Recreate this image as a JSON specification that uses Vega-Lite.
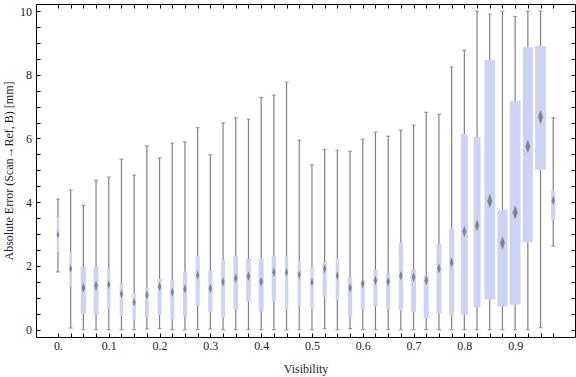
{
  "$schema": "https://vega.github.io/schema/vega-lite/v6.json",
  "width": 539,
  "height": 333,
  "autosize": {"type": "none"},
  "padding": {"left": 36, "top": 4, "right": 1, "bottom": 40},
  "config": {
    "view": {"stroke": null},
    "axis": {
      "grid": false,
      "domainColor": "#000000",
      "tickColor": "#000000",
      "domainWidth": 1,
      "tickWidth": 1,
      "tickSize": -4,
      "labelFont": "Liberation Serif",
      "titleFont": "Liberation Serif",
      "labelFontSize": 12,
      "titleFontSize": 12,
      "labelColor": "#222222",
      "titleColor": "#222222",
      "titleFontWeight": "normal"
    }
  },
  "data": {
    "values": [
      {"vis": 0.000, "lo": 1.81, "q1": 2.44, "med": 2.98, "q3": 3.53, "hi": 4.10, "weight": 25},
      {"vis": 0.025, "lo": 0.05, "q1": 1.33, "med": 1.91, "q3": 2.45, "hi": 4.38, "weight": 27},
      {"vis": 0.050, "lo": 0, "q1": 0.51, "med": 1.31, "q3": 1.97, "hi": 3.90, "weight": 53},
      {"vis": 0.075, "lo": 0, "q1": 0.48, "med": 1.38, "q3": 1.97, "hi": 4.69, "weight": 50},
      {"vis": 0.100, "lo": 0, "q1": 0.64, "med": 1.41, "q3": 1.93, "hi": 4.79, "weight": 33},
      {"vis": 0.125, "lo": 0, "q1": 0.43, "med": 1.12, "q3": 1.47, "hi": 5.35, "weight": 35},
      {"vis": 0.150, "lo": 0, "q1": 0.29, "med": 0.86, "q3": 1.15, "hi": 4.85, "weight": 33},
      {"vis": 0.175, "lo": 0.02, "q1": 0.39, "med": 1.09, "q3": 1.32, "hi": 5.77, "weight": 37},
      {"vis": 0.200, "lo": 0.03, "q1": 0.46, "med": 1.35, "q3": 1.60, "hi": 5.39, "weight": 40},
      {"vis": 0.225, "lo": 0, "q1": 0.32, "med": 1.18, "q3": 1.57, "hi": 5.86, "weight": 40},
      {"vis": 0.250, "lo": 0, "q1": 0.41, "med": 1.28, "q3": 1.82, "hi": 5.89, "weight": 40},
      {"vis": 0.275, "lo": 0, "q1": 0.75, "med": 1.71, "q3": 2.32, "hi": 6.34, "weight": 40},
      {"vis": 0.300, "lo": 0.02, "q1": 0.54, "med": 1.29, "q3": 1.85, "hi": 5.49, "weight": 42},
      {"vis": 0.325, "lo": 0, "q1": 0.39, "med": 1.50, "q3": 2.19, "hi": 6.49, "weight": 40},
      {"vis": 0.350, "lo": 0, "q1": 0.64, "med": 1.61, "q3": 2.32, "hi": 6.65, "weight": 47},
      {"vis": 0.375, "lo": 0, "q1": 0.89, "med": 1.68, "q3": 2.22, "hi": 6.61, "weight": 47},
      {"vis": 0.400, "lo": 0, "q1": 0.57, "med": 1.51, "q3": 2.22, "hi": 7.29, "weight": 50},
      {"vis": 0.425, "lo": 0, "q1": 0.90, "med": 1.80, "q3": 2.32, "hi": 7.36, "weight": 43},
      {"vis": 0.450, "lo": 0, "q1": 0.60, "med": 1.80, "q3": 2.30, "hi": 7.77, "weight": 33},
      {"vis": 0.475, "lo": 0, "q1": 0.74, "med": 1.72, "q3": 2.16, "hi": 5.95, "weight": 33},
      {"vis": 0.500, "lo": 0, "q1": 0.65, "med": 1.49, "q3": 1.97, "hi": 5.17, "weight": 33},
      {"vis": 0.525, "lo": 0.03, "q1": 1.04, "med": 1.91, "q3": 2.11, "hi": 5.66, "weight": 40},
      {"vis": 0.550, "lo": 0, "q1": 0.92, "med": 1.69, "q3": 2.25, "hi": 5.63, "weight": 33},
      {"vis": 0.575, "lo": 0.03, "q1": 0.39, "med": 1.31, "q3": 1.63, "hi": 5.60, "weight": 43},
      {"vis": 0.600, "lo": 0, "q1": 0.64, "med": 1.44, "q3": 1.55, "hi": 5.98, "weight": 40},
      {"vis": 0.625, "lo": 0, "q1": 0.73, "med": 1.54, "q3": 1.88, "hi": 6.20, "weight": 40},
      {"vis": 0.650, "lo": 0, "q1": 0.64, "med": 1.51, "q3": 1.76, "hi": 6.07, "weight": 42},
      {"vis": 0.675, "lo": 0, "q1": 0.60, "med": 1.69, "q3": 2.73, "hi": 6.26, "weight": 43},
      {"vis": 0.700, "lo": 0, "q1": 0.54, "med": 1.65, "q3": 1.88, "hi": 6.42, "weight": 50},
      {"vis": 0.725, "lo": 0, "q1": 0.36, "med": 1.54, "q3": 1.69, "hi": 6.82, "weight": 50},
      {"vis": 0.750, "lo": 0, "q1": 0.51, "med": 1.92, "q3": 2.70, "hi": 6.76, "weight": 50},
      {"vis": 0.775, "lo": 0, "q1": 0.42, "med": 2.11, "q3": 3.17, "hi": 8.24, "weight": 50},
      {"vis": 0.800, "lo": 0, "q1": 0.47, "med": 3.08, "q3": 6.14, "hi": 8.77, "weight": 70},
      {"vis": 0.825, "lo": 0, "q1": 0.70, "med": 3.27, "q3": 6.05, "hi": 10.0, "weight": 70},
      {"vis": 0.850, "lo": 0, "q1": 0.95, "med": 4.04, "q3": 8.46, "hi": 9.90, "weight": 107},
      {"vis": 0.875, "lo": 0, "q1": 0.73, "med": 2.72, "q3": 3.76, "hi": 10.0, "weight": 100},
      {"vis": 0.900, "lo": 0, "q1": 0.79, "med": 3.68, "q3": 7.18, "hi": 9.83, "weight": 107},
      {"vis": 0.925, "lo": 0, "q1": 2.74, "med": 5.75, "q3": 8.86, "hi": 10.0, "weight": 100},
      {"vis": 0.950, "lo": 0.06, "q1": 5.02, "med": 6.67, "q3": 8.90, "hi": 10.0, "weight": 107},
      {"vis": 0.975, "lo": 2.62, "q1": 3.45, "med": 4.05, "q3": 4.36, "hi": 6.65, "weight": 43}
    ]
  },
  "layer": [
    {
      "mark": {"type": "rule", "stroke": "#808080", "strokeWidth": 1.2},
      "encoding": {
        "x": {
          "field": "vis", "type": "quantitative",
          "scale": {"domain": [-0.0334, 1.008], "nice": false, "zero": false},
          "axis": {
            "orient": "bottom",
            "title": "Visibility",
            "values": [0, 0.025, 0.05, 0.075, 0.1, 0.125, 0.15, 0.175, 0.2, 0.225, 0.25, 0.275, 0.3, 0.325, 0.35, 0.375, 0.4, 0.425, 0.45, 0.475, 0.5, 0.525, 0.55, 0.575, 0.6, 0.625, 0.65, 0.675, 0.7, 0.725, 0.75, 0.775, 0.8, 0.825, 0.85, 0.875, 0.9, 0.925, 0.95, 0.975],
            "labelExpr": "abs(datum.value*10 - round(datum.value*10)) < 0.001 ? (datum.value == 0 ? '0.' : format(datum.value, '.1f')) : ''",
            "labelPadding": 7,
            "titlePadding": 12,
            "labelOverlap": false
          }
        },
        "y": {
          "field": "lo", "type": "quantitative",
          "scale": {"domain": [-0.23, 10.22], "nice": false, "zero": false},
          "axis": {
            "orient": "left",
            "title": "Absolute Error (Scan→Ref, B) [mm]",
            "values": [0, 0.5, 1, 1.5, 2, 2.5, 3, 3.5, 4, 4.5, 5, 5.5, 6, 6.5, 7, 7.5, 8, 8.5, 9, 9.5, 10],
            "labelExpr": "datum.value % 2 == 0 ? format(datum.value, 'd') : ''",
            "labelPadding": 8.5,
            "titlePadding": 4,
            "labelOverlap": false
          }
        },
        "y2": {"field": "hi"}
      }
    },
    {
      "transform": [{"fold": ["lo", "hi"], "as": ["end", "val"]}],
      "mark": {"type": "tick", "orient": "horizontal", "size": 4, "thickness": 1.2, "color": "#808080"},
      "encoding": {
        "x": {"field": "vis", "type": "quantitative", "axis": null},
        "y": {"field": "val", "type": "quantitative", "axis": null}
      }
    },
    {
      "mark": {"type": "bar", "color": "#ccd3f5"},
      "encoding": {
        "x": {
          "field": "vis", "type": "quantitative",
          "axis": {
            "orient": "top", "title": null, "labels": false,
            "values": [0, 0.025, 0.05, 0.075, 0.1, 0.125, 0.15, 0.175, 0.2, 0.225, 0.25, 0.275, 0.3, 0.325, 0.35, 0.375, 0.4, 0.425, 0.45, 0.475, 0.5, 0.525, 0.55, 0.575, 0.6, 0.625, 0.65, 0.675, 0.7, 0.725, 0.75, 0.775, 0.8, 0.825, 0.85, 0.875, 0.9, 0.925, 0.95, 0.975]
          }
        },
        "y": {
          "field": "q1", "type": "quantitative",
          "axis": {
            "orient": "right", "title": null, "labels": false,
            "values": [0, 0.5, 1, 1.5, 2, 2.5, 3, 3.5, 4, 4.5, 5, 5.5, 6, 6.5, 7, 7.5, 8, 8.5, 9, 9.5, 10]
          }
        },
        "y2": {"field": "q3"},
        "size": {"field": "weight", "type": "quantitative", "scale": {"domain": [0, 100], "range": [0, 10]}, "legend": null}
      }
    },
    {
      "mark": {"type": "point", "shape": "M0,-1L0.35,0L0,1L-0.35,0Z", "filled": true, "color": "#7a7a7a", "opacity": 0.9, "strokeWidth": 0},
      "encoding": {
        "x": {"field": "vis", "type": "quantitative", "axis": null},
        "y": {"field": "med", "type": "quantitative", "axis": null},
        "size": {"field": "weight", "type": "quantitative", "scale": {"domain": [25, 107], "range": [60, 200]}, "legend": null}
      }
    }
  ],
  "resolve": {
    "axis": {"x": "independent", "y": "independent"},
    "scale": {"size": "independent"}
  }
}
